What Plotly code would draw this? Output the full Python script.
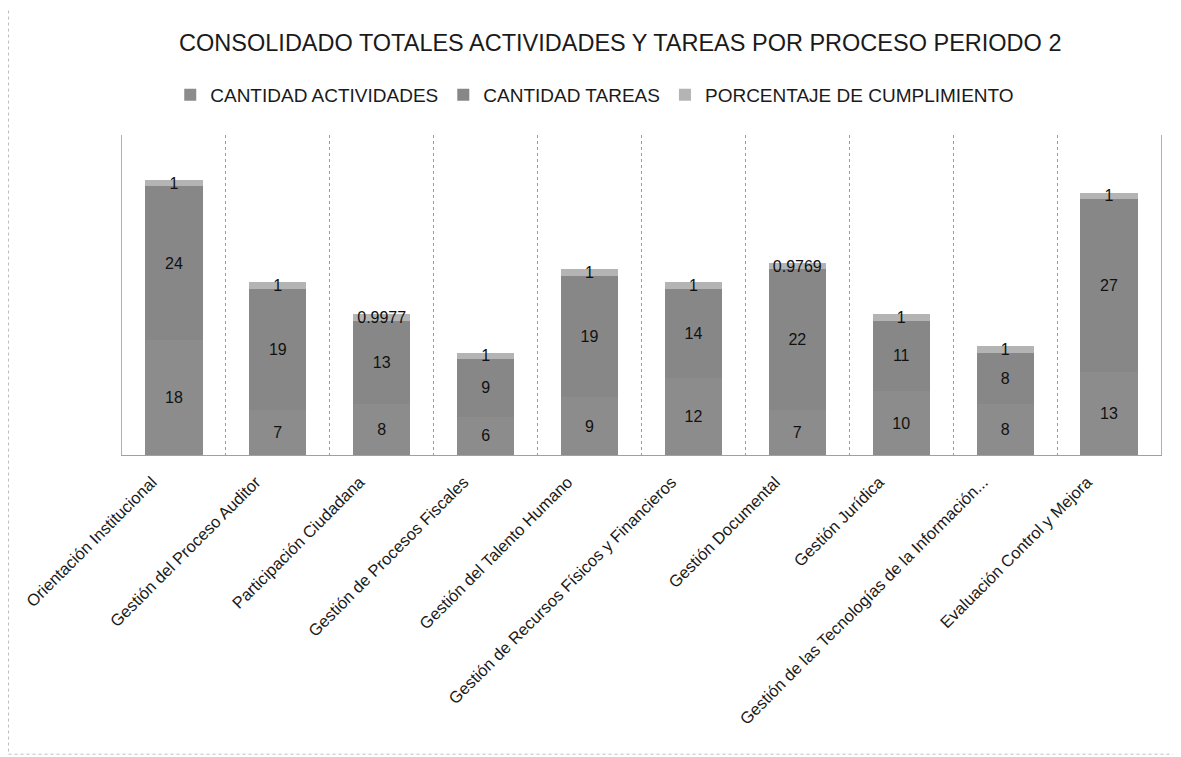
import plotly.graph_objects as go

procesos = [
    "Orientación Institucional",
    "Gestión del Proceso Auditor",
    "Participación Ciudadana",
    "Gestión de Procesos Fiscales",
    "Gestión del Talento Humano",
    "Gestión de Recursos Físicos y Financieros",
    "Gestión Documental",
    "Gestión Jurídica",
    "Gestión de las Tecnologías de la Información...",
    "Evaluación Control y Mejora",
]
cantidad_actividades = [18, 7, 8, 6, 9, 12, 7, 10, 8, 13]
cantidad_tareas = [24, 19, 13, 9, 19, 14, 22, 11, 8, 27]
porcentaje_cumplimiento = [1, 1, 0.9977, 1, 1, 1, 0.9769, 1, 1, 1]

series = [
    ("CANTIDAD ACTIVIDADES", cantidad_actividades, "#8c8c8c"),
    ("CANTIDAD TAREAS", cantidad_tareas, "#878787"),
    ("PORCENTAJE DE CUMPLIMIENTO", porcentaje_cumplimiento, "#b4b4b4"),
]

FONT = "Liberation Sans, Arial"

fig = go.Figure()
for name, vals, color in series:
    fig.add_trace(go.Bar(
        name=name, x=procesos, y=vals,
        marker=dict(color=color, line=dict(width=0)),
        text=vals, texttemplate="%{y}",
        textposition="inside", insidetextanchor="middle",
        constraintext="none", textangle=0,
        textfont=dict(family=FONT, size=16, color="#111111"),
        width=0.55,
    ))

fig.update_layout(
    barmode="stack",
    width=1173, height=749,
    paper_bgcolor="white", plot_bgcolor="white",
    margin=dict(l=114, r=20, t=127, b=302),
    title=dict(text="CONSOLIDADO TOTALES ACTIVIDADES Y TAREAS POR PROCESO PERIODO 2",
               x=0.522, xanchor="center", y=0.953, yanchor="middle",
               font=dict(family=FONT, size=23.5, color="#1a1a1a")),
    legend=dict(orientation="h", x=0.455, xanchor="center", y=1.125, yanchor="middle",
                font=dict(family=FONT, size=19, color="#1a1a1a"),
                itemwidth=30, traceorder="normal"),
    font=dict(family=FONT, color="#1a1a1a"),
    showlegend=True,
)
fig.update_xaxes(
    type="category", tickson="boundaries", showgrid=True,
    gridcolor="#9a9a9a", gridwidth=1, griddash="dot",
    tickangle=-45, ticks="", showline=True, linecolor="#a0a0a0",
    ticklabelshift=-22, ticklabelstandoff=10,
    tickfont=dict(family=FONT, size=16.5, color="#1a1a1a"),
)
fig.update_yaxes(range=[0, 50], showgrid=False, showticklabels=False,
                 zeroline=False, showline=True, mirror=True, linecolor="#b0b0b0")

fig.add_shape(type="rect", xref="paper", yref="paper",
              x0=-0.1092, x1=1.017, y0=-0.935, y1=1.3984,
              line=dict(color="#bdbdbd", width=1, dash="dot"))

fig.write_html("out.html")
